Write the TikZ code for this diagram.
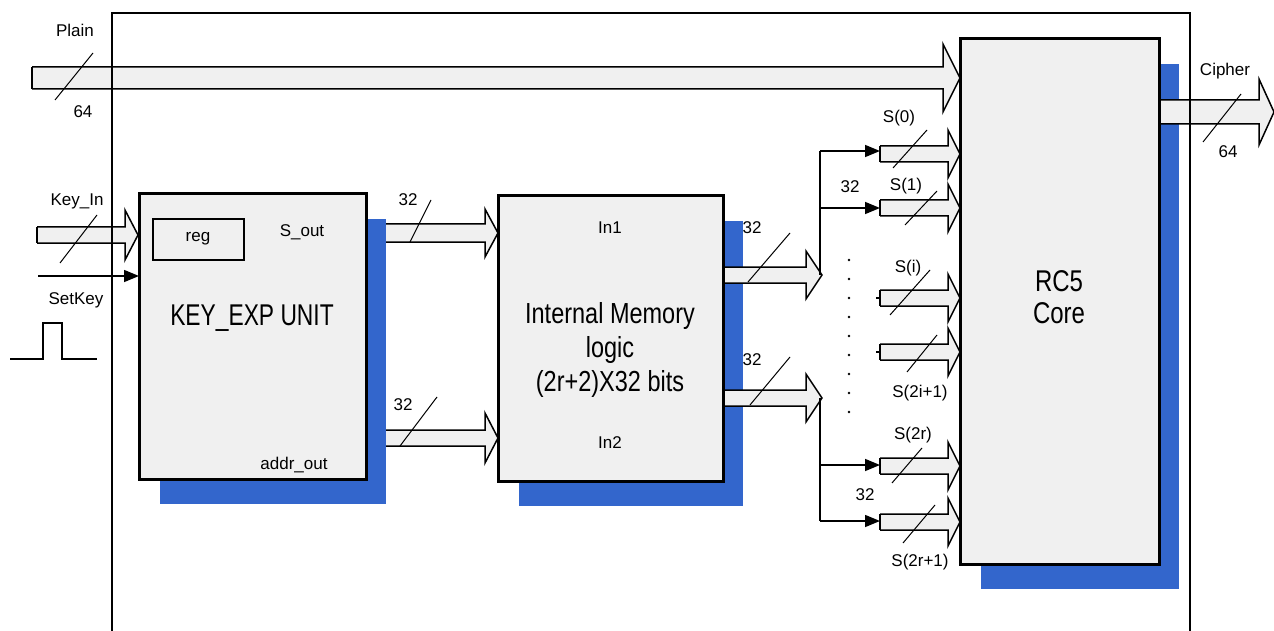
\documentclass[tikz,border=0pt]{standalone}
\usepackage{fontspec}
\setmainfont{Liberation Sans}
\usetikzlibrary{arrows.meta,shadows}
\definecolor{shadowblue}{RGB}{51,102,204}
\definecolor{boxfill}{RGB}{240,240,240}
\tikzset{
  blk/.style={draw=black, line width=1.8pt, fill=boxfill, inner sep=0pt,
    general shadow={fill=shadowblue, shadow xshift=20pt, shadow yshift=-25pt}},
  arrline/.style={draw=black, line width=1.5pt, line join=miter},
  arrfill/.style={fill=boxfill},
  lbl/.style={font=\fontsize{17}{19}\selectfont, inner sep=0pt},
  big/.style={font=\fontsize{30}{32}\selectfont, inner sep=0pt},
  slash/.style={line width=1pt},
  conn/.style={line width=1.5pt},
  tri/.style={line width=1.5pt, -{Triangle[length=15pt,width=12pt]}},
  frame/.style={line width=1.5pt},
}
% block arrow: start x, head base x, tip x, centre y, half body, half head
\newcommand\blockarr[6]{%
  \fill[arrfill] (#1,#4-#5) -- (#2,#4-#5) -- (#2,#4-#6) -- (#3,#4) -- (#2,#4+#6) -- (#2,#4+#5) -- (#1,#4+#5) -- cycle;
  \draw[arrline] (#1,#4-#5) -- (#2,#4-#5) -- (#2,#4-#6) -- (#3,#4) -- (#2,#4+#6) -- (#2,#4+#5) -- (#1,#4+#5);
}
\begin{document}
\begin{tikzpicture}[x=1pt,y=-1pt]
\useasboundingbox (0,0) rectangle (1274,631);
\fill[white] (0,0) rectangle (1274,631);

% boxes with shadows
\node[blk, minimum width=226pt, minimum height=285pt, anchor=north west] (kexp) at (139,193) {};
\node[blk, minimum width=224pt, minimum height=285pt, anchor=north west] (mem) at (498,195) {};
\node[blk, minimum width=198pt, minimum height=525pt, anchor=north west] (rc5) at (960,38) {};

% block arrows
\blockarr{32}{943}{960}{78}{11}{34}
\draw[arrline] (32,67) -- (32,89);
\blockarr{37}{125}{138}{235}{8}{25}
\draw[arrline] (37,227) -- (37,243);
\blockarr{386}{485}{498}{233}{9}{24}
\blockarr{386}{485}{498}{438}{8}{25}
\blockarr{723}{806}{822}{275}{8}{24}
\blockarr{723}{806}{822}{398}{8}{24}
\foreach \yc in {154,208,298,352,466,522}{
  \blockarr{880}{948}{960}{\yc}{8}{24}
  \draw[arrline] (880,\yc-8) -- (880,\yc+8);
}
\blockarr{1159}{1259}{1274}{112}{12}{33}

% redraw box borders on top of arrow ends
\draw[line width=1.8pt] (mem.north west) rectangle (mem.south east);
\draw[line width=1.8pt] (rc5.north west) rectangle (rc5.south east);
\draw[line width=1.8pt] (kexp.north west) rectangle (kexp.south east);

% frame
\coordinate (fbl) at (112,631);
\coordinate (ftl) at (112,13);
\coordinate (ftr) at (1190,13);
\coordinate (fbr) at (1190,631);
\draw[frame] (fbl) -- (ftl) -- (ftr) -- (fbr);

% reg box
\node[draw, line width=1.8pt, fill=boxfill, minimum width=91pt, minimum height=41pt, anchor=north west, lbl] (reg) at (152,218) {};
\node[lbl] (regt) at (198,239) {reg};

% SetKey input and pulse
\coordinate (skin) at (38,276);
\draw[tri] (skin) -- (kexp.west |- skin);
\coordinate (p0) at (10,359);
\draw[line width=1.6pt] (p0) -- (43,359) -- (43,323) -- (62,323) -- (62,359) -- (97,359);

% branch connectors
\coordinate (bt) at (820,151);
\coordinate (b1) at (820,208);
\coordinate (bm) at (820,275);
\coordinate (bn) at (820,398);
\coordinate (b2) at (820,465);
\coordinate (bb) at (820,521);
\coordinate (s0) at (880,151);
\coordinate (s1) at (880,208);
\coordinate (s2r) at (880,465);
\coordinate (s2r1) at (880,521);
\draw[conn] (bt) -- (bm);
\draw[conn] (bn) -- (bb);
\draw[tri] (bt) -- (s0);
\draw[tri] (b1) -- (s1);
\draw[tri] (b2) -- (s2r);
\draw[tri] (bb) -- (s2r1);
\coordinate (si) at (876,298);
\coordinate (si1) at (876,352);
\draw[conn] (si) -- ++(4,0);
\draw[conn] (si1) -- ++(4,0);

% dots
\foreach \y in {260,279,...,412}{ \fill (849,\y) circle (1.3pt); }

% slashes
\draw[slash] (55,100) -- (93,53);
\draw[slash] (60,263) -- (97,215);
\draw[slash] (410,242) -- (431,200);
\draw[slash] (400,446) -- (437,397);
\draw[slash] (748,282) -- (790,233);
\draw[slash] (750,405) -- (790,357);
\draw[slash] (893,168) -- (927,130);
\draw[slash] (905,225) -- (937,191);
\draw[slash] (890,315) -- (930,270);
\draw[slash] (907,372) -- (937,335);
\draw[slash] (892,483) -- (922,448);
\draw[slash] (903,543) -- (935,505);
\draw[slash] (1203,142) -- (1241,94);

% labels
\node[lbl] (lplain) at (75,30) {Plain};
\node[lbl] (lp64) at (83,112) {64};
\node[lbl] (lkeyin) at (77,201) {Key\_In};
\node[lbl] (lsetkey) at (76,300) {SetKey};
\node[lbl] (lsout) at (302,232) {S\_out};
\node[big] (lkexp) at (252,318) {\scalebox{0.76}[1]{KEY\_EXP UNIT}};
\node[lbl] (laddr) at (294,465) {addr\_out};
\node[lbl] (l32a) at (408,200) {32};
\node[lbl] (l32b) at (403,405) {32};
\node[lbl] (lin1) at (610,228) {In1};
\node[big, font=\fontsize{29}{31}\selectfont] (lmem1) at (610,316) {\scalebox{0.81}[1]{Internal Memory}};
\node[big, font=\fontsize{29}{31}\selectfont] (lmem2) at (610,350) {\scalebox{0.81}[1]{logic}};
\node[big, font=\fontsize{29}{31}\selectfont] (lmem3) at (610,384) {\scalebox{0.81}[1]{(2r+2)X32 bits}};
\node[lbl] (lin2) at (610,443) {In2};
\node[lbl] (l32c) at (752,228) {32};
\node[lbl] (l32d) at (752,360) {32};
\node[lbl] (ls0) at (899,118) {S(0)};
\node[lbl] (l32e) at (850,187) {32};
\node[lbl] (ls1) at (906,186) {S(1)};
\node[lbl] (lsi) at (908,268) {S(i)};
\node[lbl] (lsi1) at (920,393) {S(2i+1)};
\node[lbl] (ls2r) at (913,435) {S(2r)};
\node[lbl] (l32f) at (865,495) {32};
\node[lbl] (ls2r1) at (920,562) {S(2r+1)};
\node[big] (lrc5) at (1059,281) {\scalebox{0.8}[1]{RC5}};
\node[big] (lcore) at (1059,313) {\scalebox{0.8}[1]{Core}};
\node[lbl] (lcipher) at (1225,71) {Cipher};
\node[lbl] (lc64) at (1228,152) {64};
\end{tikzpicture}
\end{document}
